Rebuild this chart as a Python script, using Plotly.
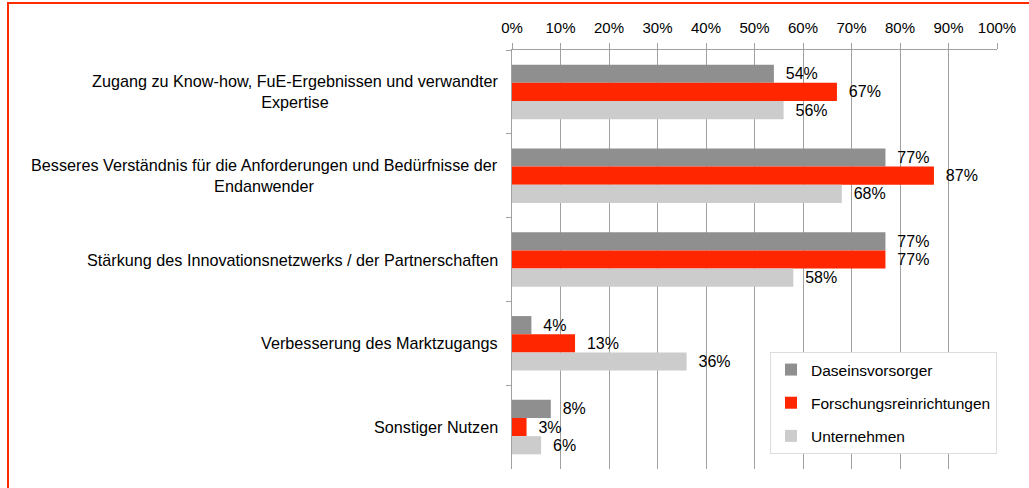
import plotly.graph_objects as go

categories = [
    "Zugang zu Know-how, FuE-Ergebnissen und verwandter<br>Expertise",
    "Besseres Verständnis für die Anforderungen und Bedürfnisse der<br>Endanwender",
    "Stärkung des Innovationsnetzwerks / der Partnerschaften",
    "Verbesserung des Marktzugangs",
    "Sonstiger Nutzen",
]
series_names = ["Daseinsvorsorger", "Forschungsreinrichtungen", "Unternehmen"]
daseinsvorsorger = [54, 77, 77, 4, 8]
forschung = [67, 87, 77, 13, 3]
unternehmen = [56, 68, 58, 36, 6]
colors = ["#8f8f8f", "#ff2600", "#cccccc"]
tick_vals = list(range(0, 101, 10))
tick_text = [f"{v}%" for v in tick_vals]

FONT = "Liberation Sans, Arial, sans-serif"
W, H = 1029, 488
L, R, T, B = 512, 32, 50, 19
pw, ph = W - L - R, H - T - B

fig = go.Figure()
for name, vals, col in zip(series_names, [daseinsvorsorger, forschung, unternehmen], colors):
    fig.add_trace(go.Bar(
        y=categories, x=vals, name=name, orientation="h",
        marker=dict(color=col, line=dict(width=0)),
        text=[f"\u00a0\u00a0{v}%" for v in vals],
        textposition="outside", constraintext="none", cliponaxis=False,
        textfont=dict(family=FONT, size=16, color="#000000"),
        legendgroup=name,
    ))

for c in categories:
    fig.add_annotation(
        x=0, xref="paper", y=c, yref="y", text=c, showarrow=False,
        xanchor="right", yanchor="middle", align="center", xshift=-12,
        font=dict(family=FONT, size=16.2, color="#000000"),
    )

# red frame
xl = (8 - L) / pw
yt = (H - B - 3) / ph
fig.add_shape(type="path", xref="paper", yref="paper",
              path=f"M {xl},-0.3 L {xl},{yt} L 1.3,{yt}",
              line=dict(color="#ff2a00", width=2))

fig.update_layout(
    width=W, height=H,
    margin=dict(l=L, r=R, t=T, b=B, autoexpand=False),
    paper_bgcolor="white", plot_bgcolor="white",
    barmode="group", bargap=0.35, bargroupgap=0,
    font=dict(family=FONT, size=15, color="#000000"),
    showlegend=True,
    legend=dict(
        x=(770 - L) / pw, y=(H - B - 352) / ph, xanchor="left", yanchor="top",
        bgcolor="white", bordercolor="#dddddd", borderwidth=1,
        font=dict(family=FONT, size=15.5, color="#000000"),
        tracegroupgap=10, itemwidth=30,
    ),
    xaxis=dict(
        side="top", range=[0, 100], tickvals=tick_vals, ticktext=tick_text,
        ticks="outside", ticklen=6, tickcolor="#a0a0a0",
        showgrid=True, gridcolor="#a0a0a0", gridwidth=1,
        showline=True, linecolor="#a0a0a0", linewidth=1, zeroline=False,
        tickfont=dict(family=FONT, size=15, color="#000000"),
        ticklabelstandoff=4,
    ),
    yaxis=dict(
        type="category", categoryorder="array", categoryarray=categories,
        autorange="reversed", showticklabels=False,
        tickson="boundaries", ticks="outside", ticklen=5, tickcolor="#a0a0a0",
        showgrid=False, showline=True, linecolor="#a0a0a0", linewidth=1,
        zeroline=False,
    ),
)

fig.write_html(
    "out.html",
    config={"displayModeBar": False},
    post_script="document.body.style.margin='0';document.body.style.overflow='hidden';",
)
